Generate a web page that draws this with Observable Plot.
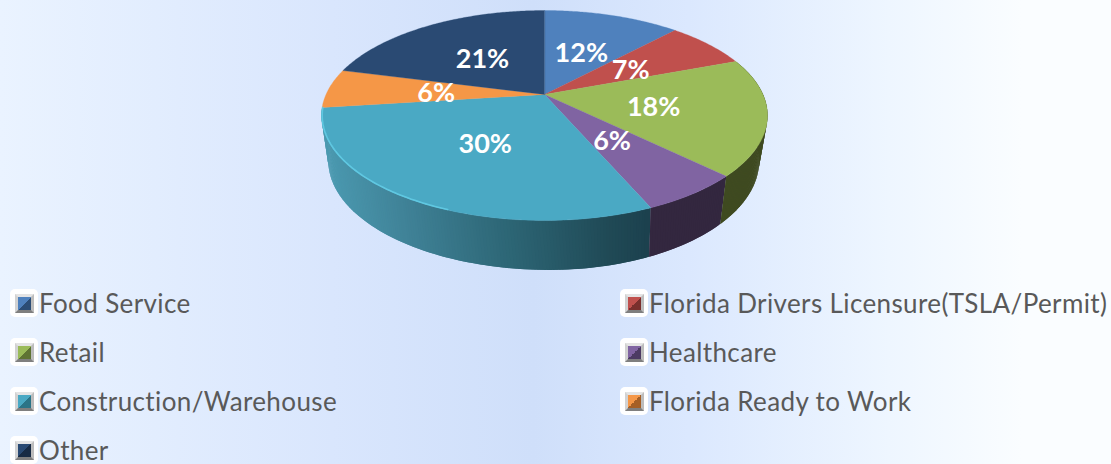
<!DOCTYPE html>
<html>
<head>
<meta charset="utf-8">
<script src="https://cdn.jsdelivr.net/npm/d3@7"></script>
<script src="https://cdn.jsdelivr.net/npm/@observablehq/plot@0.6"></script>
<style>
html,body{margin:0;padding:0;width:1111px;height:464px;overflow:hidden;}
body{background:linear-gradient(90deg,#eaf3ff 0%,#d9e6fd 30%,#cfdffa 48%,#dbe8fe 62%,#eef6ff 80%,#fafdff 92%,#fafdff 100%);font-family:Lato,sans-serif;}
svg{display:block;background:transparent;}
#legend{display:grid;grid-template-columns:610px 490px;grid-auto-rows:49px;margin-left:10px;}
.item{display:flex;align-items:center;height:28px;color:#595959;font-size:26px;letter-spacing:0.38px;font-variant-ligatures:none;white-space:nowrap;line-height:28px;}
.sw{width:28px;height:28px;background:#fff;border-radius:5px;display:flex;align-items:center;justify-content:center;margin-right:1px;flex:none;}
.sw i{display:block;width:13px;height:13px;border-style:solid;border-width:3px;border-color:#e4e4e4 #bdbdbd #7f7f7f #d2d2d2;}
</style>
</head>
<body>
<div id="chart"></div>
<div id="legend"></div>
<script>
const categories = ["Food Service","Florida Drivers Licensure(TSLA/Permit)","Retail","Healthcare","Construction/Warehouse","Florida Ready to Work","Other"];
const shares = [12,7.3,18,6.2,29.5,6,21];
const topColors = ["#4f81bd","#c0504d","#9bbb59","#8064a2","#4aa9c4","#f59747","#2a4a73"];
const wallColors = ["#2c4d75","#6e2e2c","#3f4a20","#33273f",null,"#8e5526","#182b44"];
const swatchDark = ["#2c4d75","#7a2f2d","#5f7333","#4c3b63","#2b7487","#a55f25","#182b44"];
const constructionWall = ["#4b99b0","#3f8196","#2d6675","#204a56","#1c414e"];
const wallStops = [-1,-0.62,-0.16,0.3,0.49];

// Perspective of the disc: far side is foreshortened
const persp = 0.2;
const lowerRim = {cx:0.021, aLeft:0.99, aRight:0.942, cy:-0.44, b:1.04};
function project(theta, r, rim){
  const X = r*Math.sin(theta), Y = r*Math.cos(theta), w = 1 + persp*Y;
  return rim ? {x: rim.cx + (X<0?rim.aLeft:rim.aRight)*X/w, y: rim.cy + rim.b*Y/w} : {x: X/w, y: Y/w};
}
const total = d3.sum(shares);
const rad = d => d/total*2*Math.PI;
const cum = d3.cumsum(shares);
const slices = shares.map((v,i)=>({i, a0: rad(i?cum[i-1]:0), a1: rad(cum[i]), value:v, name:categories[i]}));

const topPts = [];
for (const s of slices){
  topPts.push({slice:s.i, ...project(0,0)});
  const n = Math.ceil((s.a1-s.a0)/0.01);
  for (let k=0;k<=n;k++) topPts.push({slice:s.i, ...project(s.a0+(s.a1-s.a0)*k/n,1)});
}
const wallPts = [];
let wid = 0;
const wallScale = d3.scaleLinear().domain(wallStops).range(constructionWall).interpolate(d3.interpolateRgb).clamp(true);
for (const s of [slices[4],slices[3],slices[2]]){
  const lo = Math.max(s.a0, 1.2), hi = s.a1;
  const n = Math.ceil((hi-lo)/0.012);
  // Strips overlap their neighbour so no seams show; painted from the back of the sweep forward.
  for (let k=n-1;k>=0;k--){
    const t0 = lo+(hi-lo)*k/n, t1 = Math.min(hi, lo+(hi-lo)*(k+2)/n);
    const c = s.i===4 ? wallScale(project(lo+(hi-lo)*(k+0.5)/n,1).x) : wallColors[s.i];
    wid++;
    const p = [project(t0,1),project(t1,1),project(t1,1,lowerRim),project(t0,1,lowerRim)];
    for (const q of p) wallPts.push({id:wid, color:c, ...q});
  }
}
const rimPts = [];
{
  const s = slices[4], a = s.a1, b = s.a0 + (s.a1-s.a0)*0.42;
  for (let k=0;k<=80;k++) rimPts.push(project(a+(b-a)*k/80,0.997));
}
const labelData = slices.map(s=>({...project((s.a0+s.a1)/2,0.5), text: Math.round(s.value)+"%"}));

const plot = Plot.plot({
  width:1111, height:289, margin:0, marginTop:0, marginBottom:0, marginLeft:0, marginRight:0,
  x:{type:"linear", domain:[-1,1], range:[544-218.5,544+218.5], axis:null},
  y:{type:"linear", domain:[-1,1], range:[94+100.8,94-100.8], axis:null},
  style:{background:"transparent"},
  marks:[
    Plot.line(wallPts,{x:"x",y:"y",z:"id",fill:"color",stroke:"none",curve:"linear-closed"}),
    Plot.line(topPts,{x:"x",y:"y",z:"slice",fill:d=>topColors[d.slice],stroke:d=>topColors[d.slice],strokeWidth:0.3,curve:"linear-closed"}),
    Plot.line(rimPts,{x:"x",y:"y",stroke:"#62cbe4",strokeWidth:1.6,strokeOpacity:0.9}),
    Plot.text(labelData,{x:"x",y:"y",dy:2,text:"text",fill:"#fff",fontSize:27,fontWeight:700,fontFamily:"Lato"})
  ]
});
document.getElementById("chart").appendChild(plot);

const leg = document.getElementById("legend");
categories.forEach((c,i)=>{
  const el = document.createElement("div");
  el.className="item";
  const sw = document.createElement("span"); sw.className="sw";
  const inner = document.createElement("i");
  inner.style.background=`linear-gradient(to bottom right, ${topColors[i]} 50%, ${swatchDark[i]} 50%)`;
  sw.appendChild(inner);
  const t = document.createElement("span"); t.textContent=c;
  el.append(sw,t);
  leg.appendChild(el);
});
</script>
</body>
</html>
